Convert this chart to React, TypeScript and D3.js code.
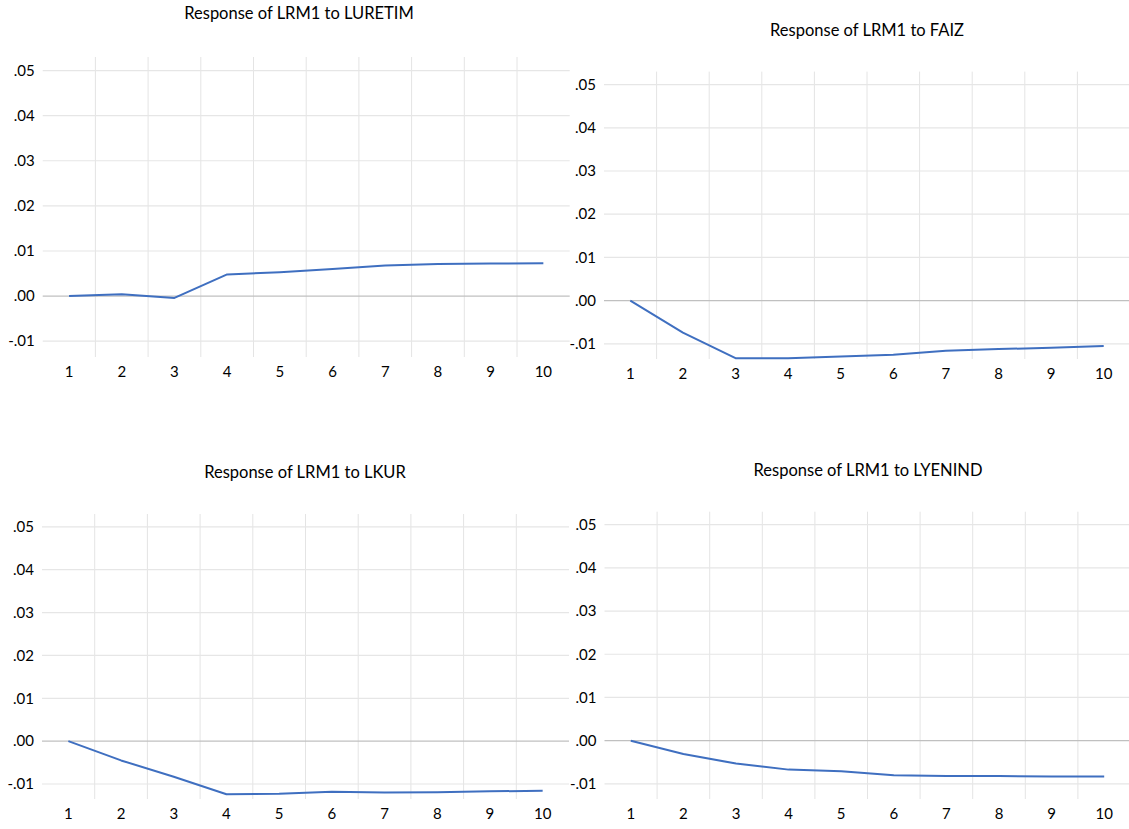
import React, { useEffect, useRef } from "react";
import * as d3 from "d3";

// impulse responses
const periods = ["1", "2", "3", "4", "5", "6", "7", "8", "9", "10"];
const yTicks = [-0.01, 0, 0.01, 0.02, 0.03, 0.04, 0.05];
const yTickLabels = ["-.01", ".00", ".01", ".02", ".03", ".04", ".05"];

const luretim = [0.0, 0.0004, -0.0004, 0.0048, 0.0053, 0.006, 0.0068, 0.0071, 0.0072, 0.0073];
const faiz = [0.0, -0.0074, -0.0133, -0.0133, -0.0129, -0.0125, -0.0116, -0.0112, -0.0109, -0.0105];
const lkur = [0.0, -0.0045, -0.0083, -0.0124, -0.0123, -0.0118, -0.012, -0.0119, -0.0117, -0.0116];
const lyenind = [0.0, -0.0031, -0.0053, -0.0067, -0.0071, -0.008, -0.0082, -0.0082, -0.0083, -0.0083];

const titles = [
  "Response of LRM1 to LURETIM",
  "Response of LRM1 to FAIZ",
  "Response of LRM1 to LKUR",
  "Response of LRM1 to LYENIND",
];
const series = [luretim, faiz, lkur, lyenind];

// panel placement (pixels)
const panels = [
  { left: 42.7, width: 527, top: 57, bottom: 357, titleX: 299, titleY: 13 },
  { left: 604, width: 526, top: 71.6, bottom: 359, titleX: 867, titleY: 30 },
  { left: 42, width: 527, top: 514, bottom: 799, titleX: 305, titleY: 472 },
  { left: 604.5, width: 526, top: 511.7, bottom: 799, titleX: 868, titleY: 470 },
];

const yDomain: [number, number] = [-0.0135, 0.053];
const FONT = "Lato, 'Open Sans', sans-serif";

export default function App() {
  const ref = useRef<HTMLDivElement>(null);

  useEffect(() => {
    const container = d3.select(ref.current);
    container.selectAll("*").remove();

    const W = 1129;
    const H = 829;
    const svg = container
      .append("svg")
      .attr("width", W)
      .attr("height", H)
      .style("display", "block")
      .style("background", "#fff");

    panels.forEach((p, i) => {
      const x = d3.scaleBand<string>().domain(periods).range([p.left, p.left + p.width]);
      const y = d3.scaleLinear().domain(yDomain).range([p.bottom, p.top]);
      const g = svg.append("g");

      // vertical grid between categories
      const bounds = periods.slice(1).map((d) => x(d) as number);
      g.selectAll("line.v")
        .data(bounds)
        .join("line")
        .attr("x1", (d) => d)
        .attr("x2", (d) => d)
        .attr("y1", p.top)
        .attr("y2", p.bottom)
        .attr("stroke", "#e4e4e4")
        .attr("stroke-width", 1);

      // horizontal grid
      g.selectAll("line.h")
        .data(yTicks)
        .join("line")
        .attr("x1", p.left)
        .attr("x2", p.left + p.width)
        .attr("y1", (d) => y(d))
        .attr("y2", (d) => y(d))
        .attr("stroke", (d) => (d === 0 ? "#c0c0c0" : "#e6e6e6"))
        .attr("stroke-width", (d) => (d === 0 ? 1.3 : 1.2));

      // y labels
      g.selectAll("text.y")
        .data(yTicks)
        .join("text")
        .attr("x", p.left - 8)
        .attr("y", (d) => y(d))
        .attr("dy", "0.35em")
        .attr("text-anchor", "end")
        .attr("font-family", FONT)
        .attr("font-size", 15)
        .attr("fill", "#000")
        .text((d, k) => yTickLabels[k]);

      // x labels
      g.selectAll("text.x")
        .data(periods)
        .join("text")
        .attr("x", (d) => (x(d) as number) + x.bandwidth() / 2)
        .attr("y", p.bottom + 15)
        .attr("dy", "0.35em")
        .attr("text-anchor", "middle")
        .attr("font-family", FONT)
        .attr("font-size", 15)
        .attr("fill", "#000")
        .text((d) => d);

      // title
      g.append("text")
        .attr("x", p.titleX)
        .attr("y", p.titleY)
        .attr("dy", "0.35em")
        .attr("text-anchor", "middle")
        .attr("font-family", FONT)
        .attr("font-size", 16.5)
        .attr("fill", "#000")
        .text(titles[i]);

      const line = d3
        .line<number>()
        .x((d, k) => (x(periods[k]) as number) + x.bandwidth() / 2)
        .y((d) => y(d));

      g.append("path")
        .datum(series[i])
        .attr("d", line)
        .attr("fill", "none")
        .attr("stroke", "#3f6fc0")
        .attr("stroke-width", 2)
        .attr("stroke-linejoin", "round");
    });
  }, []);

  return <div ref={ref} style={{ position: "absolute", left: 0, top: 0 }}></div>;
}
